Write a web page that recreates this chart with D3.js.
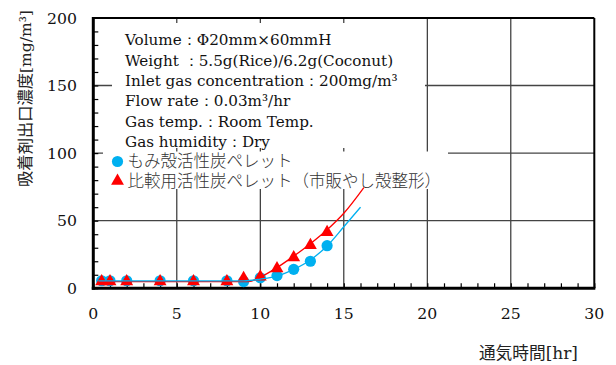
<!DOCTYPE html>
<html>
<head>
<meta charset="utf-8">
<script src="https://cdn.jsdelivr.net/npm/d3@7"></script>
<style>
  html, body { margin: 0; padding: 0; background: #fff; }
  svg { display: block; }
</style>
</head>
<body>
<svg id="chart" width="616" height="365"></svg>
<script>
// Breakthrough measurements: outlet concentration [mg/m3] vs. elapsed time [hr]
const riceHours  = [0.5, 1, 2, 4, 6, 8, 9, 10, 11, 12, 13, 14];
const riceConc   = [5.6, 5.6, 5.6, 5.6, 5.6, 5.6, 5, 7.8, 9.4, 14, 20, 31.5];
const cocoHours  = [0.5, 1, 2, 4, 6, 8, 9, 10, 11, 12, 13, 14];
const cocoConc   = [5, 5, 5, 5, 5, 5, 7.5, 8.5, 14.6, 22.8, 31.8, 41.5];

// Approximation curves drawn through each series
const riceFitHours = [0.3, 9, 10, 11, 12, 13, 14, 15, 16];
const riceFitConc  = [5.5, 5.5, 6.8, 9, 14, 21, 31.3, 45.5, 60];
const cocoFitHours = [0.3, 9.3, 10, 11, 12, 13, 14, 15, 16.2];
const cocoFitConc  = [5, 5, 8.3, 15.3, 23.8, 33, 43.3, 55.5, 74.5];

const xTicks = [0, 5, 10, 15, 20, 25, 30];
const yTicks = [0, 50, 100, 150, 200];

const conditionLines = [
  "Volume：Φ20mm×60mmH",
  "Weight ：5.5g(Rice)/6.2g(Coconut)",
  "Inlet gas concentration：200mg/m³",
  "Flow rate：0.03m³/hr",
  "Gas temp.：Room Temp.",
  "Gas humidity：Dry"
];
const seriesNames = ["もみ殻活性炭ペレット", "比較用活性炭ペレット（市販やし殻整形）"];
const seriesColors = ["#00b0f0", "#ff0000"];

const SERIF = "'DejaVu Serif', 'Liberation Serif', serif";
const JP = "'Noto Sans CJK JP', sans-serif";

const svg = d3.select("#chart");
const plotL = 93.3, plotR = 594.3, plotT = 17.9, plotB = 288.3;

const x = d3.scaleLinear().domain([0, 30]).range([plotL, plotR]);
const y = d3.scaleLinear().domain([0, 200]).range([plotB, plotT]);

// grid lines
const grid = svg.append("g").attr("stroke", "#222").attr("stroke-width", 1.1);
grid.selectAll("line.v").data(xTicks.slice(1, -1)).join("line").attr("class", "v")
  .attr("x1", d => x(d)).attr("x2", d => x(d))
  .attr("y1", plotT).attr("y2", plotB);
grid.selectAll("line.h").data(yTicks.slice(1, -1)).join("line").attr("class", "h")
  .attr("x1", plotL).attr("x2", plotR)
  .attr("y1", d => y(d)).attr("y2", d => y(d))
  .attr("stroke", "#444").attr("stroke-width", 1.3);

// white panels behind the condition notes and the legend
svg.append("rect").attr("x", 112).attr("y", 23).attr("width", 313).attr("height", 125).attr("fill", "#fff");
svg.append("rect").attr("x", 103).attr("y", 151.5).attr("width", 345).attr("height", 37.5).attr("fill", "#fff");

// axes with inward minor ticks
const xAxis = d3.axisBottom(x).tickValues(d3.range(0, 31, 1)).tickSize(-5).tickFormat("");
svg.append("g").attr("transform", `translate(0,${plotB})`).call(xAxis)
  .call(g => g.select(".domain").remove())
  .call(g => g.selectAll("line").attr("stroke", "#000").attr("stroke-width", 1.2));
const yAxis = d3.axisLeft(y).tickValues(d3.range(0, 201, 10)).tickSize(-5).tickFormat("");
svg.append("g").attr("transform", `translate(${plotL},0)`).call(yAxis)
  .call(g => g.select(".domain").remove())
  .call(g => g.selectAll("line").attr("stroke", "#000").attr("stroke-width", 1.2));

// frame
svg.append("line").attr("x1", plotL).attr("x2", plotR).attr("y1", plotT).attr("y2", plotT).attr("stroke", "#000").attr("stroke-width", 2);
svg.append("line").attr("x1", plotR).attr("x2", plotR).attr("y1", plotT).attr("y2", plotB).attr("stroke", "#000").attr("stroke-width", 2);
svg.append("line").attr("x1", plotL).attr("x2", plotL).attr("y1", plotT - 1).attr("y2", plotB + 1.5).attr("stroke", "#000").attr("stroke-width", 3);
svg.append("line").attr("x1", plotL - 1.5).attr("x2", plotR + 1).attr("y1", plotB).attr("y2", plotB).attr("stroke", "#000").attr("stroke-width", 3);

// tick labels
svg.append("g").selectAll("text").data(xTicks).join("text")
  .attr("font-family", SERIF).attr("font-size", 15.7).attr("fill", "#111")
  .attr("x", d => x(d)).attr("y", 313).attr("dy", "0.36em")
  .attr("text-anchor", "middle").text(d => d);
svg.append("g").selectAll("text").data(yTicks).join("text")
  .attr("font-family", SERIF).attr("font-size", 15.7).attr("fill", "#111")
  .attr("x", 77).attr("y", d => y(d)).attr("dy", "0.36em")
  .attr("text-anchor", "end").text(d => d);

// axis titles
const yTitle = svg.append("text").attr("fill", "#222")
  .attr("transform", "translate(25,98.5) rotate(-90)").attr("text-anchor", "middle").attr("dy", "0.35em");
yTitle.append("tspan").attr("font-family", JP).attr("font-size", 16.3).text("吸着剤出口濃度");
yTitle.append("tspan").attr("font-family", SERIF).attr("font-size", 15.5).text("[mg/m³]");

const xTitle = svg.append("text").attr("fill", "#222")
  .attr("x", 578).attr("y", 353).attr("dy", "0.35em").attr("text-anchor", "end");
xTitle.append("tspan").attr("font-family", JP).attr("font-size", 16.7).text("通気時間");
xTitle.append("tspan").attr("font-family", SERIF).attr("font-size", 17).text("[hr]");

// condition notes
svg.append("g").selectAll("text").data(conditionLines).join("text")
  .attr("font-family", SERIF).attr("font-size", 15.2).attr("fill", "#111")
  .attr("x", 125).attr("y", (d, i) => 40 + i * 20.3).attr("dy", "0.35em")
  .text(d => d);

// legend
const legend = svg.append("g");
legend.append("circle").attr("cx", 117.5).attr("cy", 161.5).attr("r", 5.6).attr("fill", seriesColors[0]);
legend.append("path").attr("d", d3.symbol(d3.symbolTriangle, 72)())
  .attr("transform", "translate(117.5,181)").attr("fill", seriesColors[1]);
legend.selectAll("text").data(seriesNames).join("text")
  .attr("font-family", JP).attr("font-size", 16.5).attr("font-weight", 300).attr("fill", "#333")
  .attr("x", 127.5).attr("y", (d, i) => 161.5 + i * 19.5).attr("dy", "0.35em")
  .text(d => d);

// markers
const riceData = riceHours.map((h, i) => [h, riceConc[i]]);
const cocoData = cocoHours.map((h, i) => [h, cocoConc[i]]);
svg.append("g").selectAll("circle").data(riceData).join("circle")
  .attr("cx", d => x(d[0])).attr("cy", d => y(d[1])).attr("r", 5.6)
  .attr("fill", seriesColors[0]);
svg.append("g").selectAll("path").data(cocoData).join("path")
  .attr("d", d3.symbol(d3.symbolTriangle, 72)())
  .attr("transform", d => `translate(${x(d[0])},${y(d[1])})`)
  .attr("fill", seriesColors[1]);

// fitted curves
const line = d3.line().x(d => x(d[0])).y(d => y(d[1])).curve(d3.curveMonotoneX);
svg.append("path").datum(cocoFitHours.map((h, i) => [h, cocoFitConc[i]]))
  .attr("d", line).attr("fill", "none").attr("stroke", seriesColors[1]).attr("stroke-width", 1.3);
svg.append("path").datum(riceFitHours.map((h, i) => [h, riceFitConc[i]]))
  .attr("d", line).attr("fill", "none").attr("stroke", seriesColors[0]).attr("stroke-width", 1.3);
</script>
</body>
</html>
